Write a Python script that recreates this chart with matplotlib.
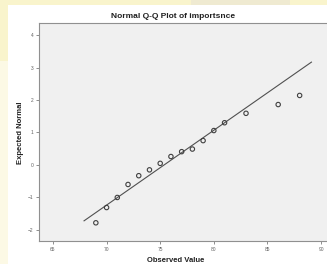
import numpy as np
import matplotlib
matplotlib.use("Agg")
import matplotlib.pyplot as plt

# datos (Q-Q normal de "importsnce")
observado = [69, 70, 71, 72, 73, 74, 75, 76, 77, 78, 79, 80, 81, 83, 86, 88]
esperado = [-1.78, -1.31, -1.0, -0.6, -0.33, -0.15, 0.05, 0.26, 0.41, 0.49,
            0.75, 1.06, 1.30, 1.59, 1.86, 2.14]
# recta de referencia: extremos x y parametros (media, desviacion)
linea_x = [67.9, 89.1]
media, desv = 75.36, 4.34
xticks = [65, 70, 75, 80, 85, 90]
yticks = [-2, -1, 0, 1, 2, 3, 4]

plt.rcParams['font.family'] = ['Liberation Sans', 'DejaVu Sans']

fig = plt.figure(figsize=(3.27, 2.64), dpi=100)
fig.patch.set_facecolor('white')

# fondo amarillento de la diapositiva (arriba y a la izquierda)
fondo = fig.add_axes([0, 0, 1, 1], zorder=-5)
fondo.axis('off')
h, w = 264, 327
yy, xx = np.mgrid[0:h, 0:w]
img = np.ones((h, w, 3))
banda = (yy < 5) | (xx < 8)
img[banda] = [0.98, 0.96, 0.80]
tono = (yy < 5) & (xx > 190) & (xx < 290)
img[tono] = [0.94, 0.92, 0.82]
fade = (xx < 8) & (yy > 60)
img[fade] = [0.99, 0.98, 0.90]
fondo.imshow(img, aspect='auto', extent=[0, 1, 0, 1], interpolation='bilinear')

ax = fig.add_axes([39 / 327, 23 / 264, 289.6 / 327, 218 / 264])
ax.set_facecolor('#f0f0f0')
ax.set_xlim(63.7, 90.7)
ax.set_ylim(-2.34, 4.37)

lx = np.array(linea_x)
ax.plot(lx, (lx - media) / desv, color='#505050', lw=0.8)
ax.scatter(observado, esperado, s=10, facecolors='none', edgecolors='#404040', linewidths=0.8, zorder=3)

ax.set_xticks(xticks)
ax.set_yticks(yticks)
ax.tick_params(labelsize=3.5, length=2.5, width=0.5, colors='#606060', pad=1.5)
for s in ['left', 'bottom', 'top', 'right']:
    ax.spines[s].set_color('#909090')
    ax.spines[s].set_linewidth(0.8)

fig.text(173 / 327, 1 - 17 / 264, 'Normal Q-Q Plot of importsnce', ha='center', va='center',
         fontsize=6, fontweight='bold', color='#202020')
fig.text(176 / 327, 1 - 260 / 264, 'Observed Value', ha='center', va='center',
         fontsize=5.5, fontweight='bold', color='#202020')
fig.text(20 / 327, 1 - 133 / 264, 'Expected Normal', ha='center', va='center', rotation=90,
         fontsize=5.5, fontweight='bold', color='#202020')

fig.savefig('out.png', dpi=100)
plt.close()
